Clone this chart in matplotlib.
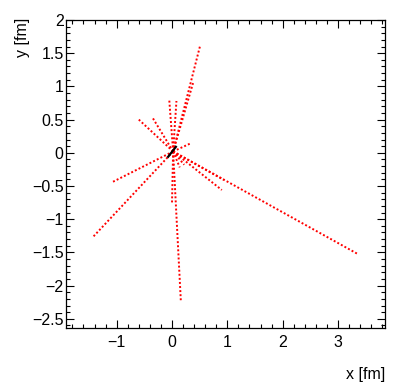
import matplotlib
matplotlib.use("Agg")
import matplotlib.pyplot as plt
from matplotlib.ticker import MultipleLocator, FuncFormatter

plt.rcParams["font.family"] = ["Liberation Sans", "DejaVu Sans"]

# common start point of the tracks (fm)
origin_x = 0.02
origin_y = 0.02

# end points of the red dotted tracks (fm)
end_x = [0.51, -0.05, 0.08, 0.38, -0.60, -0.36, 0.33, -1.10, -1.42, 0.16,
         0.00, 3.37, 0.94, 0.90, 0.14, 0.22]
end_y = [1.62, 0.80, 0.78, 1.05, 0.50, 0.54, 0.14, -0.45, -1.26, -2.24,
         -0.75, -1.53, -0.41, -0.56, -0.22, -0.18]

# short black segment at the centre
black_x = [-0.07, 0.07]
black_y = [-0.06, 0.09]

x_range = (-1.91, 3.85)
y_range = (-2.64, 2.0)


def root_label(v, pos):
    v = round(v, 6)
    if v == 0:
        return "0"
    return f"{v:g}".replace("-", "\u2212")


fig = plt.figure(figsize=(4.07, 3.92), dpi=100)
ax = fig.add_axes([0.163, 0.163, 0.783, 0.786])

for ex, ey in zip(end_x, end_y):
    ax.plot([origin_x, ex], [origin_y, ey], color="red", lw=1.4,
            linestyle=(0, (1.0, 1.1)))
ax.plot(black_x, black_y, color="black", lw=1.6)

ax.set_xlim(*x_range)
ax.set_ylim(*y_range)
ax.xaxis.set_major_locator(MultipleLocator(1))
ax.xaxis.set_minor_locator(MultipleLocator(0.2))
ax.yaxis.set_major_locator(MultipleLocator(0.5))
ax.yaxis.set_minor_locator(MultipleLocator(0.1))
ax.xaxis.set_major_formatter(FuncFormatter(root_label))
ax.yaxis.set_major_formatter(FuncFormatter(root_label))
ax.tick_params(which="both", direction="in", top=True, right=True,
               labelsize=11.5, width=0.8)
ax.tick_params(which="major", length=6)
ax.tick_params(which="minor", length=3)
ax.tick_params(axis="x", which="major", pad=5)
ax.tick_params(axis="y", which="major", pad=2)
for s in ax.spines.values():
    s.set_linewidth(0.9)

fig.text(0.946, 0.045, "x [fm]", ha="right", va="center", fontsize=11.5)
fig.text(0.055, 0.955, "y [fm]", ha="center", va="top", rotation=90,
         fontsize=11.5)

fig.savefig("out.png", dpi=100, facecolor="white")
